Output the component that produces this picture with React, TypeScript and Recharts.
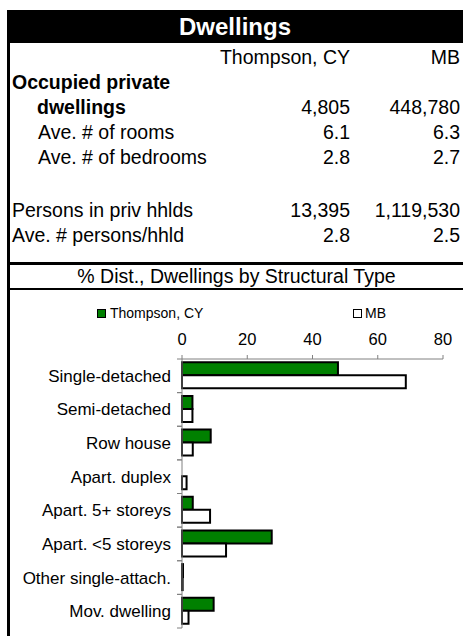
import React from 'react';
import { BarChart, Bar, XAxis, YAxis } from 'recharts';

const categories = [
  'Single-detached',
  'Semi-detached',
  'Row house',
  'Apart. duplex',
  'Apart. 5+ storeys',
  'Apart. <5 storeys',
  'Other single-attach.',
  'Mov. dwelling',
];
const thompsonPct = [47.8, 3.2, 8.8, 0, 3.3, 27.5, 0.3, 9.7];
const mbPct = [68.6, 3.2, 3.3, 1.4, 8.6, 13.5, 0.2, 2.0];
const xTicks = [0, 20, 40, 60, 80];
const seriesNames = ['Thompson, CY', 'MB'];

const rowLabels = [
  'Occupied private',
  'dwellings',
  'Ave. # of rooms',
  'Ave. # of bedrooms',
  'Persons in priv hhlds',
  'Ave. # persons/hhld',
];
const thompsonVals = ['', '4,805', '6.1', '2.8', '13,395', '2.8'];
const mbVals = ['', '448,780', '6.3', '2.7', '1,119,530', '2.5'];

// layout for the table rows (centre y, label x, bold)
const rowLayout = [
  { y: 82, x: 12, bold: true },
  { y: 107, x: 37, bold: true },
  { y: 132, x: 38, bold: false },
  { y: 157, x: 38, bold: false },
  { y: 210, x: 12, bold: false },
  { y: 235, x: 12, bold: false },
];

const FONT = "Arial, 'Liberation Sans', sans-serif";
const GREEN = '#008000';
const AXIS = '#808080';

const chartData = categories.map((name, i) => ({
  name,
  thompson: thompsonPct[i],
  mb: mbPct[i],
}));

const CategoryTick = (props: any) => {
  const { x, y, payload } = props;
  const off = payload.offset || 0;
  return (
    <g>
      <line x1={x - 5} x2={x} y1={y - off} y2={y - off} stroke={AXIS} />
      <line x1={x - 5} x2={x} y1={y + off} y2={y + off} stroke={AXIS} />
      <text x={x - 11} y={y} dy="0.355em" textAnchor="end" fontSize={17} fill="#000" fontFamily={FONT}>
        {payload.value}
      </text>
    </g>
  );
};

const cell = (text: string, top: number, style: React.CSSProperties) => (
  <div
    style={{
      position: 'absolute',
      top: top - 12.5,
      height: 25,
      lineHeight: '25px',
      whiteSpace: 'nowrap',
      ...style,
    }}
  >
    {text}
  </div>
);

export default function App() {
  return (
    <div
      style={{
        position: 'absolute',
        left: 0,
        top: 0,
        width: 463,
        height: 636,
        background: '#fff',
        fontFamily: FONT,
        fontSize: 19.5,
        color: '#000',
        overflow: 'hidden',
      }}
    >
      {/* left frame */}
      <div style={{ position: 'absolute', left: 7, top: 10, width: 3, height: 626, background: '#000' }} />
      {/* header */}
      <div
        style={{
          position: 'absolute',
          left: 7,
          top: 10,
          width: 456,
          height: 33,
          background: '#000',
          color: '#fff',
          fontWeight: 'bold',
          fontSize: 24,
          lineHeight: '33px',
          textAlign: 'center',
        }}
      >
        Dwellings
      </div>

      {cell(seriesNames[0], 57, { left: 0, width: 350, textAlign: 'right' })}
      {cell(seriesNames[1], 57, { left: 360, width: 100, textAlign: 'right' })}

      {rowLabels.map((label, i) => (
        <React.Fragment key={label}>
          {cell(label, rowLayout[i].y, { left: rowLayout[i].x, fontWeight: rowLayout[i].bold ? 'bold' : 'normal' })}
          {cell(thompsonVals[i], rowLayout[i].y, { left: 0, width: 350, textAlign: 'right' })}
          {cell(mbVals[i], rowLayout[i].y, { left: 340, width: 120, textAlign: 'right' })}
        </React.Fragment>
      ))}

      {/* section rules */}
      <div style={{ position: 'absolute', left: 7, top: 262, width: 456, height: 3, background: '#000' }} />
      <div style={{ position: 'absolute', left: 7, top: 288, width: 456, height: 2, background: '#000' }} />
      {cell('% Dist., Dwellings by Structural Type', 276, { left: 10, width: 453, textAlign: 'center' })}

      {/* legend */}
      <div style={{ position: 'absolute', left: 97, top: 309, width: 7, height: 7, background: GREEN, border: '1px solid #000' }} />
      <div style={{ position: 'absolute', left: 110, top: 304, fontSize: 14, lineHeight: '18px' }}>{seriesNames[0]}</div>
      <div style={{ position: 'absolute', left: 353, top: 309, width: 7, height: 7, background: '#fff', border: '1.5px solid #000' }} />
      <div style={{ position: 'absolute', left: 365, top: 304, fontSize: 14, lineHeight: '18px' }}>{seriesNames[1]}</div>

      <div style={{ position: 'absolute', left: 10, top: 290 }}>
        <BarChart
          width={453}
          height={346}
          data={chartData}
          layout="vertical"
          margin={{ top: 39, right: 20, bottom: 8, left: 0 }}
          barCategoryGap="10%"
          barGap={0}
        >
          <XAxis
            type="number"
            orientation="top"
            domain={[0, 80]}
            ticks={xTicks}
            height={30}
            tickSize={4}
            tickMargin={10}
            stroke={AXIS}
            tick={{ fontSize: 16.5, fill: '#000', fontFamily: FONT }}
            interval={0}
          />
          <YAxis
            type="category"
            dataKey="name"
            width={172}
            tickSize={0}
            tickMargin={0}
            tickLine={false}
            stroke={AXIS}
            tick={<CategoryTick />}
            interval={0}
          />
          <Bar dataKey="thompson" name={seriesNames[0]} fill={GREEN} stroke="#000" strokeWidth={2} isAnimationActive={false} />
          <Bar dataKey="mb" name={seriesNames[1]} fill="#fff" stroke="#000" strokeWidth={2} isAnimationActive={false} />
        </BarChart>
      </div>
    </div>
  );
}
